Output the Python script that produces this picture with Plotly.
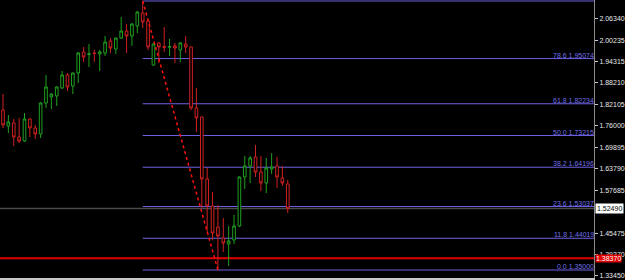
import plotly.graph_objects as go

# ---- data ----
opens = [1.8046, 1.7591, 1.7677, 1.7279, 1.7165, 1.7790, 1.7535, 1.7364, 1.8245, 1.8415,
         1.8444, 1.8671, 1.9040, 1.8728, 1.9097, 1.9694, 1.9623, 1.9665, 1.9637, 1.9665,
         2.0006, 1.9779, 2.0091, 2.0290, 2.0148, 2.0432, 2.0802, 2.0574, 1.9324, 1.9950,
         1.9845, 1.9830, 1.9864, 1.9751, 1.9921, 1.9836, 1.8103, 1.7847, 1.6086, 1.5319,
         1.4722, 1.4409, 1.4239, 1.4353, 1.4750, 1.6142, 1.6455, 1.6711, 1.6284, 1.5972,
         1.6370, 1.6455, 1.6114, 1.5944]
highs = [1.8500, 1.7904, 1.7790, 1.7819, 1.7961, 1.7800, 1.7620, 1.8270, 1.9040, 1.8520,
         1.8720, 1.9154, 1.9097, 1.9110, 1.9694, 1.9836, 1.9921, 1.9751, 1.9751, 2.0148,
         2.0091, 2.0100, 2.0688, 2.0489, 2.0517, 2.0858, 2.1143, 2.0600, 1.9950, 1.9978,
         2.0404, 2.0063, 1.9950, 1.9978, 2.0148, 1.9850, 1.8671, 1.7860, 1.6398, 1.5716,
         1.5347, 1.4977, 1.4750, 1.5063, 1.6160, 1.6739, 1.6739, 1.7052, 1.6739, 1.6682,
         1.6819, 1.6711, 1.6455, 1.6057]
lows = [1.7535, 1.7392, 1.7023, 1.7108, 1.7140, 1.7279, 1.7222, 1.7250, 1.8103, 1.8074,
        1.8160, 1.8643, 1.8586, 1.8500, 1.8813, 1.9410, 1.9268, 1.9410, 1.9154, 1.9580,
        1.9665, 1.9637, 2.0063, 1.9665, 1.9864, 2.0233, 2.0375, 1.9751, 1.9300, 1.9381,
        1.9694, 1.9580, 1.9381, 1.9410, 1.9665, 1.8046, 1.7421, 1.5262, 1.4551, 1.4353,
        1.3500, 1.4011, 1.3614, 1.4239, 1.4722, 1.5801, 1.5972, 1.6142, 1.5745, 1.5687,
        1.6227, 1.5830, 1.5887, 1.5120]
closes = [1.7620, 1.7705, 1.7279, 1.7165, 1.7790, 1.7535, 1.7364, 1.8245, 1.8699, 1.8500,
          1.8699, 1.9040, 1.8699, 1.9097, 1.9665, 1.9552, 1.9643, 1.9650, 1.9694, 1.9978,
          1.9807, 2.0091, 2.0290, 2.0148, 2.0489, 2.0830, 2.0546, 1.9836, 1.9921, 1.9836,
          1.9830, 1.9845, 1.9807, 1.9950, 1.9836, 1.8103, 1.7819, 1.6086, 1.5319, 1.4551,
          1.4466, 1.4267, 1.4324, 1.4750, 1.6142, 1.6455, 1.6682, 1.6284, 1.5972, 1.6398,
          1.6426, 1.6142, 1.5972, 1.5249]
bars = list(range(len(opens)))

fib_levels = ["0.0", "11.8", "23.6", "38.2", "50.0", "61.8", "78.6", "100.0"]
fib_prices = [1.35000, 1.44019, 1.53037, 1.64196, 1.73215, 1.82234, 1.95074, 2.11430]
fib_start_bar = 26
fib_end_bar = 40

tick_vals = [2.06340, 2.00235, 1.94315, 1.88210, 1.82105, 1.76000, 1.69895,
             1.63790, 1.57685, 1.45475, 1.39370, 1.33450]
tick_text = ["2.06340", "2.00235", "1.94315", "1.88210", "1.82105", "1.76000", "1.69895",
             "1.63790", "1.57685", "1.45475", "1.39370", "1.33450"]

bid_price = 1.52490
alert_price = 1.38370

X_RANGE = [-0.56, 110.0]
Y_RANGE = [1.3273, 2.1171]

FONT = "Liberation Sans, Arial, sans-serif"
GREEN = "#1fa01f"
RED = "#d02020"
FIB = "#6c60e0"

fig = go.Figure()
fig.add_trace(go.Candlestick(
    x=bars, open=opens, high=highs, low=lows, close=closes,
    increasing=dict(line=dict(color=GREEN, width=1), fillcolor="black"),
    decreasing=dict(line=dict(color=RED, width=1), fillcolor="black"),
    whiskerwidth=0, hoverinfo="skip", showlegend=False,
))

shapes = []
annotations = []
# bid line and alert line (full width)
shapes.append(dict(type="line", xref="paper", x0=0, x1=1, yref="y", y0=bid_price, y1=bid_price,
                   line=dict(color="#4a4a4a", width=1.5), layer="below"))
shapes.append(dict(type="line", xref="paper", x0=0, x1=1, yref="y", y0=alert_price, y1=alert_price,
                   line=dict(color="#e00000", width=2), layer="below"))
# fib lines
for lvl, p in zip(fib_levels, fib_prices):
    shapes.append(dict(type="line", xref="x", x0=fib_start_bar, x1=X_RANGE[1], yref="y", y0=p, y1=p,
                       line=dict(color=FIB, width=1), layer="below"))
    if lvl != "100.0":
        annotations.append(dict(xref="paper", x=1, xanchor="right", xshift=1,
                                yref="y", y=p, yanchor="bottom", yshift=-1,
                                text=f"{lvl} {p:.5f}", showarrow=False, borderpad=0,
                                font=dict(family=FONT, size=7, color="#7070e8")))
# trend (fib anchor) line
shapes.append(dict(type="line", xref="x", x0=fib_start_bar, x1=fib_end_bar, yref="y",
                   y0=fib_prices[-1], y1=fib_prices[0],
                   line=dict(color="#ff1010", width=1.5, dash="dot")))

# price labels on the axis
annotations.append(dict(xref="paper", x=1, xanchor="left", xshift=1, yref="y", y=bid_price,
                        yanchor="middle", text=f"{bid_price:.5f}", showarrow=False,
                        bgcolor="white", borderpad=1,
                        font=dict(family=FONT, size=7, color="black")))
annotations.append(dict(xref="paper", x=1, xanchor="left", xshift=1, yref="y", y=alert_price,
                        yanchor="middle", text=f"{alert_price:.5f}", showarrow=False,
                        bgcolor="#e00000", borderpad=0,
                        font=dict(family=FONT, size=7, color="white")))

fig.update_layout(
    width=625, height=280,
    margin=dict(l=0, r=28, t=0, b=2),
    paper_bgcolor="black", plot_bgcolor="black",
    shapes=shapes, annotations=annotations,
    showlegend=False,
    xaxis=dict(range=X_RANGE, showgrid=False, zeroline=False, showticklabels=False,
               rangeslider=dict(visible=False), showline=True, linecolor="#c8c8c8",
               linewidth=2, ticks="", fixedrange=True),
    yaxis=dict(range=Y_RANGE, side="right", showgrid=False, zeroline=False,
               tickmode="array", tickvals=tick_vals, ticktext=tick_text,
               ticks="outside", ticklen=3, tickcolor="#c8c8c8",
               showline=True, linecolor="#8a8a8a", linewidth=1,
               tickfont=dict(family=FONT, size=7, color="#e8e8e8"), fixedrange=True),
)

fig.write_html("out.html")
